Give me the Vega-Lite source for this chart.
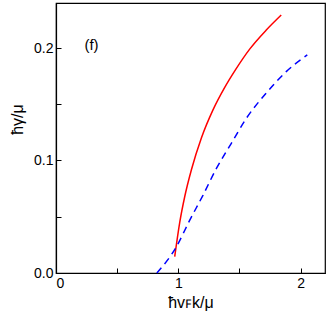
{
  "$schema": "https://vega.github.io/schema/vega-lite/v6.json",
  "width": 269,
  "height": 270,
  "autosize": {"type": "none"},
  "padding": {"left": 56, "top": 3, "right": 2, "bottom": 49},
  "background": "white",
  "config": {
    "view": {"stroke": "black", "strokeWidth": 1.2},
    "font": "Liberation Sans",
    "axis": {
      "grid": false,
      "domainColor": "black",
      "domainWidth": 1.2,
      "tickColor": "black",
      "tickSize": -5,
      "labelColor": "black",
      "labelFontSize": 14,
      "titleColor": "black",
      "titleFontSize": 16,
      "titleFontWeight": "normal"
    }
  },
  "datasets": {
    "red": [
      {"x": 0.971, "y": 0.0145},
      {"x": 1.012, "y": 0.045},
      {"x": 1.053, "y": 0.068},
      {"x": 1.108, "y": 0.092},
      {"x": 1.189, "y": 0.12},
      {"x": 1.284, "y": 0.145},
      {"x": 1.38, "y": 0.165},
      {"x": 1.47, "y": 0.181},
      {"x": 1.584, "y": 0.199},
      {"x": 1.72, "y": 0.216},
      {"x": 1.842, "y": 0.2293}
    ],
    "blue": [
      {"x": 0.825, "y": 0.0},
      {"x": 0.985, "y": 0.0234},
      {"x": 1.094, "y": 0.047},
      {"x": 1.203, "y": 0.0693},
      {"x": 1.312, "y": 0.093},
      {"x": 1.434, "y": 0.1153},
      {"x": 1.557, "y": 0.1375},
      {"x": 1.72, "y": 0.16},
      {"x": 1.883, "y": 0.179},
      {"x": 2.055, "y": 0.1938}
    ],
    "label": [{"x": 0.29, "y": 0.203, "t": "(f)"}]
  },
  "layer": [
    {
      "data": {"name": "red"},
      "mark": {"type": "line", "color": "#ff0000", "strokeWidth": 1.5, "interpolate": "monotone"},
      "encoding": {
        "x": {"field": "x", "type": "quantitative", "scale": {"domain": [0, 2.2], "nice": false},
          "axis": {"values": [0, 0.5, 1, 1.5, 2], "labelExpr": "datum.value % 1 === 0 ? format(datum.value, 'd') : ''", "title": "ħvꜰk/μ", "labelPadding": 8, "titlePadding": 4}},
        "y": {"field": "y", "type": "quantitative", "scale": {"domain": [0, 0.24], "nice": false},
          "axis": {"values": [0, 0.05, 0.1, 0.15, 0.2], "labelExpr": "abs(datum.value*10 - round(datum.value*10)) < 0.001 ? format(datum.value, '.1f') : ''", "title": "ħγ/μ", "labelPadding": 8, "titlePadding": 8, "titleY": 116}}
      }
    },
    {
      "data": {"name": "blue"},
      "mark": {"type": "line", "color": "#0000ff", "strokeWidth": 1.5, "strokeDash": [7, 5], "interpolate": "monotone"},
      "encoding": {
        "x": {"field": "x", "type": "quantitative"},
        "y": {"field": "y", "type": "quantitative"}
      }
    },
    {
      "data": {"name": "label"},
      "mark": {"type": "text", "fontSize": 15, "color": "black"},
      "encoding": {
        "x": {"field": "x", "type": "quantitative"},
        "y": {"field": "y", "type": "quantitative"},
        "text": {"field": "t"}
      }
    }
  ]
}
